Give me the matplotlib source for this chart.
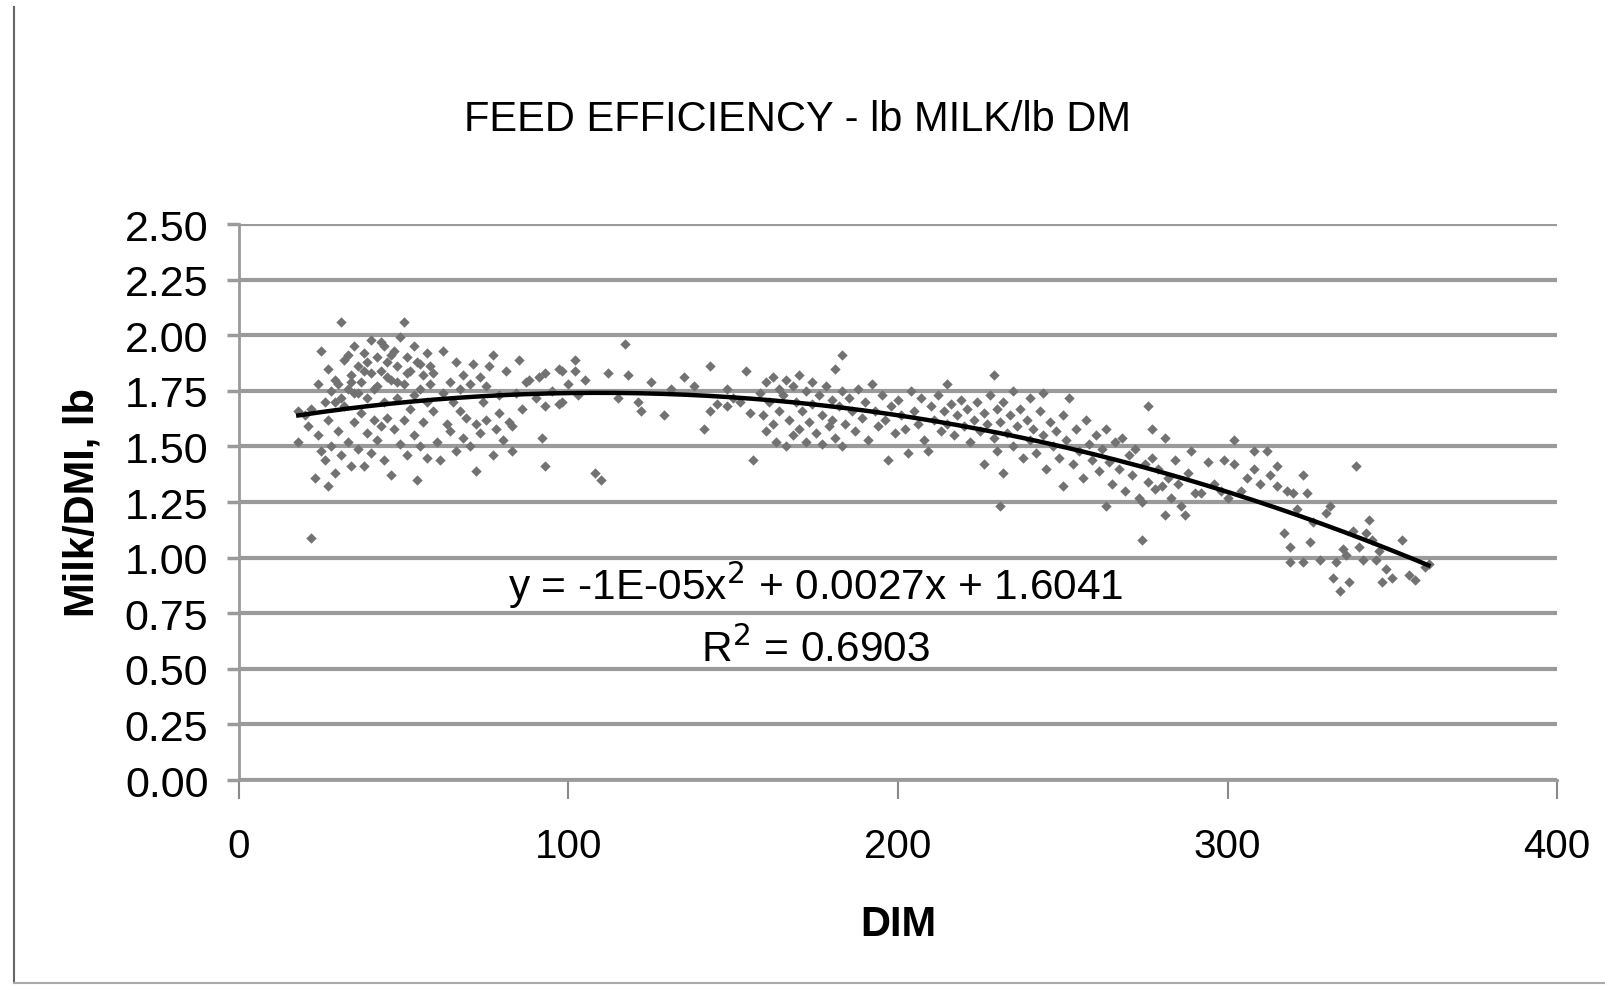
"""
Feed efficiency scatter (lb milk / lb DM vs DIM) with 2nd-order trendline.
"""
import numpy as np
import matplotlib
matplotlib.use("Agg")
import matplotlib.pyplot as plt
from matplotlib.lines import Line2D

plt.rcParams["font.family"] = ["Liberation Sans", "DejaVu Sans"]

TITLE = "FEED EFFICIENCY - lb MILK/lb DM"
X_LABEL = "DIM"
Y_LABEL = "Milk/DMI, lb"
EQUATION = "y = -1E-05x$^2$ + 0.0027x + 1.6041"
R_SQUARED = "R$^2$ = 0.6903"

x_ticks = [0, 100, 200, 300, 400]
y_ticks = [0.00, 0.25, 0.50, 0.75, 1.00, 1.25, 1.50, 1.75, 2.00, 2.25, 2.50]

# (DIM, milk/DMI), left to right
early = [(18, 1.66), (18, 1.52), (20, 1.64), (21, 1.59), (22, 1.09), (22, 1.67), (23, 1.36),
         (24, 1.55), (24, 1.78), (25, 1.93), (25, 1.48), (26, 1.44), (26, 1.70), (27, 1.32),
         (27, 1.62), (27, 1.85), (28, 1.75), (28, 1.50), (29, 1.80), (29, 1.38), (29, 1.70),
         (30, 1.78), (30, 1.57), (31, 2.06), (31, 1.72), (31, 1.46), (32, 1.89), (32, 1.68),
         (33, 1.76), (33, 1.52), (33, 1.91), (34, 1.82), (34, 1.41), (34, 1.79), (35, 1.95),
         (35, 1.74), (35, 1.61),
         (36, 1.86), (36, 1.49), (36, 1.74), (37, 1.79), (37, 1.65), (38, 1.92), (38, 1.41),
         (38, 1.84), (39, 1.72), (39, 1.56), (39, 1.88), (40, 1.98), (40, 1.83), (40, 1.47),
         (41, 1.76), (41, 1.62), (42, 1.90), (42, 1.53), (42, 1.77), (43, 1.84), (43, 1.59),
         (43, 1.97), (44, 1.95), (44, 1.70), (44, 1.44), (45, 1.88), (45, 1.63), (45, 1.81),
         (46, 1.80), (46, 1.37), (46, 1.91), (47, 1.93), (47, 1.58), (48, 1.86), (48, 1.72),
         (48, 1.79), (49, 1.99), (49, 1.51), (50, 2.06), (50, 1.78), (50, 1.62), (51, 1.90),
         (51, 1.46), (51, 1.83), (52, 1.84), (52, 1.67), (53, 1.95), (53, 1.55), (53, 1.73),
         (54, 1.88), (54, 1.35), (55, 1.76), (55, 1.50), (55, 1.87), (56, 1.82), (56, 1.61),
         (57, 1.70), (57, 1.45), (57, 1.92), (58, 1.86), (58, 1.78), (59, 1.66), (59, 1.83),
         (60, 1.52)]

mid_early = [(61, 1.44), (62, 1.93), (62, 1.74), (63, 1.60), (64, 1.57), (64, 1.79), (65, 1.70),
             (66, 1.88), (66, 1.48), (67, 1.66), (67, 1.76), (68, 1.82), (68, 1.54), (69, 1.63),
             (70, 1.50), (70, 1.78), (71, 1.87), (72, 1.39), (72, 1.60), (73, 1.56), (73, 1.81),
             (74, 1.70), (75, 1.62), (75, 1.77), (76, 1.86), (77, 1.91), (77, 1.46), (78, 1.58),
             (79, 1.65), (79, 1.73), (80, 1.53), (81, 1.84), (82, 1.61), (83, 1.59), (83, 1.48),
             (84, 1.74), (85, 1.89), (86, 1.67), (87, 1.79), (88, 1.80), (90, 1.72), (91, 1.81),
             (92, 1.54), (93, 1.41), (93, 1.83), (93, 1.68), (95, 1.75), (97, 1.85), (97, 1.69),
             (98, 1.84), (98, 1.70), (100, 1.78),
             (102, 1.89), (102, 1.84), (103, 1.73), (105, 1.80), (108, 1.38), (110, 1.35),
             (112, 1.83), (115, 1.72), (117, 1.96), (118, 1.82), (121, 1.70), (122, 1.66),
             (125, 1.79), (129, 1.64), (131, 1.76), (135, 1.81), (138, 1.77), (141, 1.58),
             (143, 1.86), (143, 1.66), (145, 1.69), (148, 1.68), (148, 1.76), (150, 1.72),
             (152, 1.70), (154, 1.84), (155, 1.65), (156, 1.44)]

mid = [(158, 1.74), (159, 1.64), (160, 1.79), (160, 1.57), (161, 1.70), (162, 1.81), (162, 1.60),
       (163, 1.52), (164, 1.76), (164, 1.66), (165, 1.73), (166, 1.50), (166, 1.80), (167, 1.62),
       (168, 1.77), (168, 1.55), (169, 1.70), (170, 1.82), (170, 1.58), (171, 1.66), (172, 1.75),
       (172, 1.52), (173, 1.61), (174, 1.79), (174, 1.69), (175, 1.56), (176, 1.73), (177, 1.64),
       (177, 1.51), (178, 1.77), (179, 1.59), (180, 1.71), (180, 1.62), (181, 1.85), (181, 1.54),
       (182, 1.68), (183, 1.91), (183, 1.75), (183, 1.50), (184, 1.60), (185, 1.72), (186, 1.66),
       (187, 1.57), (188, 1.76), (189, 1.63), (190, 1.70), (191, 1.53), (192, 1.78), (193, 1.66),
       (194, 1.59), (195, 1.73), (196, 1.62), (197, 1.44), (198, 1.68), (199, 1.56), (200, 1.71),
       (201, 1.64), (202, 1.58), (203, 1.47), (204, 1.75), (205, 1.66), (206, 1.60), (207, 1.72),
       (208, 1.53), (209, 1.48), (210, 1.68), (211, 1.62), (212, 1.73), (213, 1.57), (214, 1.66),
       (215, 1.78), (215, 1.60), (216, 1.69), (217, 1.55), (218, 1.64), (219, 1.71), (220, 1.59),
       (221, 1.67), (222, 1.52), (223, 1.62), (224, 1.70), (225, 1.57), (226, 1.42), (226, 1.65),
       (227, 1.60), (228, 1.73), (229, 1.82), (229, 1.54), (230, 1.67), (230, 1.48), (231, 1.61),
       (231, 1.23), (232, 1.38), (232, 1.70), (233, 1.56), (234, 1.64), (235, 1.75), (235, 1.50),
       (236, 1.59), (237, 1.67), (238, 1.45), (239, 1.62), (240, 1.72), (240, 1.53), (241, 1.58),
       (242, 1.47), (243, 1.66), (244, 1.74), (244, 1.55), (245, 1.40)]

late = [(246, 1.61), (247, 1.50), (248, 1.57), (249, 1.45), (250, 1.32), (250, 1.64), (251, 1.53),
        (252, 1.72), (253, 1.42), (254, 1.58), (255, 1.48), (256, 1.36), (257, 1.62), (258, 1.51),
        (259, 1.44), (260, 1.55), (261, 1.39), (262, 1.49), (263, 1.23), (263, 1.58), (264, 1.43),
        (265, 1.33), (266, 1.52), (267, 1.40), (268, 1.54), (269, 1.30), (270, 1.46), (271, 1.37),
        (272, 1.49), (273, 1.27), (274, 1.08), (274, 1.25), (275, 1.42), (276, 1.68), (276, 1.34),
        (277, 1.58), (277, 1.45), (278, 1.31), (279, 1.40), (280, 1.32), (281, 1.54), (281, 1.19),
        (282, 1.36), (283, 1.27), (284, 1.44), (285, 1.33), (286, 1.23), (287, 1.19), (288, 1.38),
        (289, 1.48), (290, 1.29), (292, 1.29), (294, 1.43), (296, 1.33), (298, 1.30), (299, 1.44),
        (300, 1.27), (302, 1.53), (302, 1.42), (304, 1.30), (306, 1.36), (308, 1.48), (308, 1.40),
        (310, 1.33), (312, 1.48), (313, 1.37), (315, 1.41), (315, 1.32), (317, 1.11), (318, 1.30),
        (319, 1.05), (319, 0.98), (320, 1.29), (321, 1.22), (323, 1.37), (323, 0.98), (324, 1.29),
        (325, 1.07), (326, 1.16), (328, 0.99), (330, 1.20), (331, 1.23), (332, 0.91), (333, 0.98),
        (334, 0.85), (335, 1.04), (336, 1.01), (337, 0.89), (338, 1.12), (339, 1.41), (340, 1.05),
        (341, 0.99), (342, 1.11), (343, 1.17), (344, 1.08), (345, 0.99), (346, 1.03), (347, 0.89),
        (348, 0.95), (350, 0.91), (353, 1.08), (355, 0.92), (357, 0.90), (360, 0.96), (361, 0.97)]

dim, ratio = np.array(early + mid_early + mid + late).T

# second-order polynomial trendline fitted to the points
coef = np.polyfit(dim, ratio, 2)
x_fit = np.linspace(dim.min(), dim.max(), 200)
y_fit = np.polyval(coef, x_fit)

fig = plt.figure(figsize=(16.06, 9.87), dpi=100)
ax = fig.add_axes([0.1488, 0.2087, 0.8207, 0.5633])

ax.scatter(dim, ratio, marker="D", s=28, color="#727272", linewidths=0, zorder=3)
ax.plot(x_fit, y_fit, color="black", linewidth=3.2, zorder=4)

ax.set_xlim(0, 400)
ax.set_ylim(0, 2.5)
ax.set_xticks(x_ticks)
ax.set_yticks(y_ticks)
ax.set_yticklabels([f"{v:.2f}" for v in y_ticks])
ax.yaxis.grid(True, color="#9a9a9a", linewidth=3)
ax.set_axisbelow(True)
for side in ("top", "right"):
    ax.spines[side].set_visible(False)
for side in ("left", "bottom"):
    ax.spines[side].set_color("#9a9a9a")
    ax.spines[side].set_linewidth(2)
ax.tick_params(axis="x", direction="out", length=14, width=1.5, color="#8a8a8a",
               labelsize=29, pad=20)
ax.tick_params(axis="y", direction="out", length=9, width=2.5, color="#9a9a9a",
               labelsize=31, pad=13)

ax.set_xlabel(X_LABEL, fontsize=30, fontweight="bold", labelpad=28)
ax.set_ylabel(Y_LABEL, fontsize=30, fontweight="bold", labelpad=16)
fig.text(0.4965, 0.878, TITLE, ha="center", va="center", fontsize=30)

ax.text(175, 0.88, EQUATION, ha="center", va="center", fontsize=30.5)
ax.text(175, 0.59, R_SQUARED, ha="center", va="center", fontsize=30.5)

# outer chart frame (left and bottom edges)
fig.add_artist(Line2D([0.009, 0.009], [0.003, 0.992], color="#666666", linewidth=1.5))
fig.add_artist(Line2D([0.009, 1.0], [0.003, 0.003], color="#aaaaaa", linewidth=1.5))

fig.savefig("out.png", dpi=100)
